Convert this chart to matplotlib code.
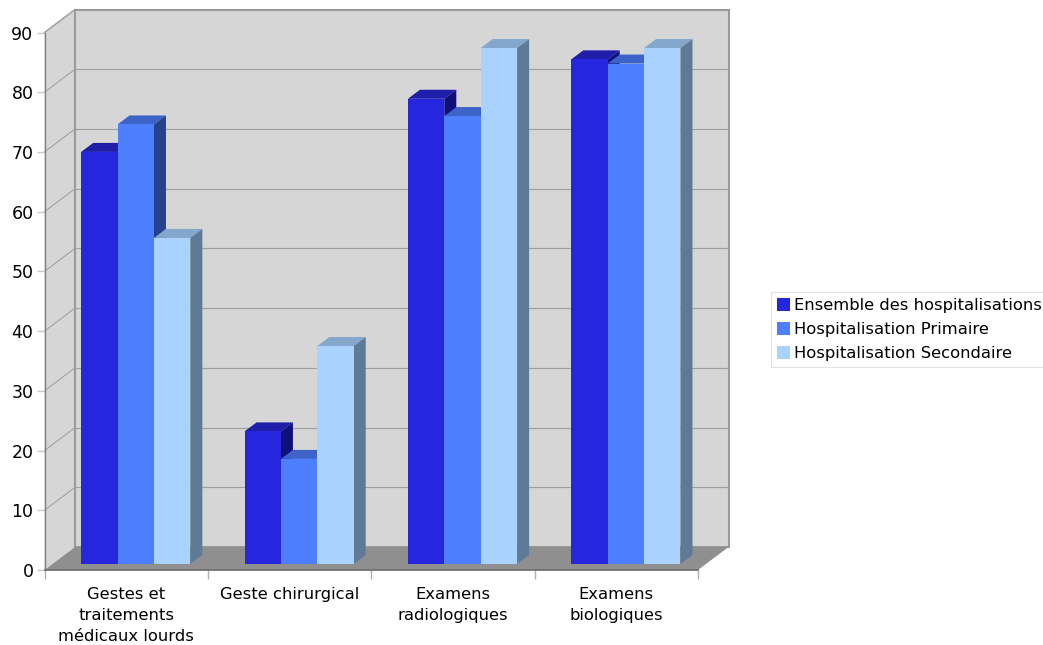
import matplotlib
matplotlib.use("Agg")
import matplotlib.pyplot as plt
from matplotlib.patches import Polygon, Patch

categories = ["Gestes et\ntraitements\nmédicaux lourds", "Geste chirurgical",
              "Examens\nradiologiques", "Examens\nbiologiques"]
ensemble = [69.0, 22.2, 77.9, 84.5]
primaire = [73.6, 17.6, 75.0, 83.8]
secondaire = [54.6, 36.5, 86.4, 86.4]
series_names = ["Ensemble des hospitalisations", "Hospitalisation Primaire", "Hospitalisation Secondaire"]
series = [ensemble, primaire, secondaire]
yticks = list(range(0, 100, 10))

front = ["#2626de", "#4d7fff", "#aad2ff"]
top = ["#1e1ea8", "#3d63c8", "#84a8cc"]
side = ["#10107a", "#26428c", "#5f7a96"]

W, H = 1043, 645
L, R, T, B = 44.5, 698, 32.5, 570
fig = plt.figure(figsize=(W / 100, H / 100), dpi=100)
ax = fig.add_axes([L / W, 1 - B / H, (R - L) / W, (B - T) / H])
ax.set_xlim(0, 4)
ax.set_ylim(0, 90)
ux = (R - L) / 4      # px per x unit
uy = (B - T) / 90     # px per y unit


def off(x, y, px, py):
    """Shift a data point by a depth offset given in pixels."""
    return (x + px / ux, y + py / uy)


def poly(pts, color, z, ec="none", lw=0):
    ax.add_patch(Polygon(pts, closed=True, fc=color, ec=ec, lw=lw, zorder=z, clip_on=False))


DX, DY = 30.5, 23
# walls and floor
wall = "#d6d6d6"
edge = "#9a9a9a"
poly([(0, 0), off(0, 0, DX, DY), off(0, 90, DX, DY), (0, 90)], wall, 1)
poly([off(0, 0, DX, DY), off(4, 0, DX, DY), off(4, 90, DX, DY), off(0, 90, DX, DY)], wall, 1, ec=edge, lw=1.5)
poly([(0, 0), off(0, 0, DX, DY), off(4, 0, DX, DY), (4, 0)], "#8f8f8f", 2)
for v in yticks[1:-1]:
    a = off(0, v, DX, DY)
    b = off(4, v, DX, DY)
    ax.plot([0, a[0]], [v, a[1]], color="#9c9c9c", lw=0.7, zorder=1.5, clip_on=False)
    ax.plot([a[0], b[0]], [a[1], b[1]], color="#a0a0a0", lw=0.85, zorder=1.5, clip_on=False)
a = off(0, 90, DX, DY)
ax.plot([0, a[0]], [90, a[1]], color="#a0a0a0", lw=1.1, zorder=1.5, clip_on=False)

# bars
START, BW = 0.165, 0.2228
BX, BY = 9.7, 6    # front face offset from axis plane
DBX, DBY = 12, 9   # bar depth
z = 3
for i in range(len(categories)):
    for j, vals in enumerate(series):
        v = vals[i]
        x0 = i + START + j * BW
        x1 = x0 + BW
        fl = off(x0, 0, BX, BY)
        fr = off(x1, 0, BX, BY)
        tl = off(x0, v, BX, BY)
        tr = off(x1, v, BX, BY)
        poly([tl, tr, off(*tr, DBX, DBY), off(*tl, DBX, DBY)], top[j], z)
        poly([fr, off(*fr, DBX, DBY), off(*tr, DBX, DBY), tr], side[j], z)
        poly([fl, fr, tr, tl], front[j], z + 0.1)
        z += 0.2

# axes
for s in ("top", "right"):
    ax.spines[s].set_visible(False)
ax.spines["left"].set_color("#808080")
ax.spines["left"].set_linewidth(1.0)
ax.spines["left"].set_zorder(20)
ax.spines["bottom"].set_color("#707070")
ax.spines["bottom"].set_linewidth(1.3)
ax.spines["bottom"].set_zorder(20)
ax.patch.set_alpha(0)
ax.set_yticks(yticks)
ax.tick_params(axis="y", length=5.5, color="#c8c8c8", width=1.0, labelsize=12.5, pad=2.5)
ax.set_xticks(range(5))
ax.set_xticklabels([])
ax.tick_params(axis="x", which="major", length=6.5, color="#b0b0b0", width=1.0)
ax.set_xticks([i + 0.5 for i in range(4)], minor=True)
ax.set_xticklabels(categories, minor=True, fontsize=11.8, linespacing=1.52, ha="center", va="top")
ax.tick_params(axis="x", which="minor", length=0, pad=12.2)

handles = [Patch(fc=c, ec="none", label=n) for c, n in zip(front, series_names)]
leg = fig.legend(handles=handles, loc="upper left", bbox_to_anchor=(770.5 / W, 1 - 292 / H),
                 bbox_transform=fig.transFigure, frameon=True, fontsize=11.8,
                 borderaxespad=0, borderpad=0.37, labelspacing=0.55,
                 handlelength=0.8, handleheight=0.8, handletextpad=0.25,
                 fancybox=False, edgecolor="#e2e2e2", framealpha=1)
leg.get_frame().set_linewidth(0.8)

fig.savefig("out.png", dpi=100)
